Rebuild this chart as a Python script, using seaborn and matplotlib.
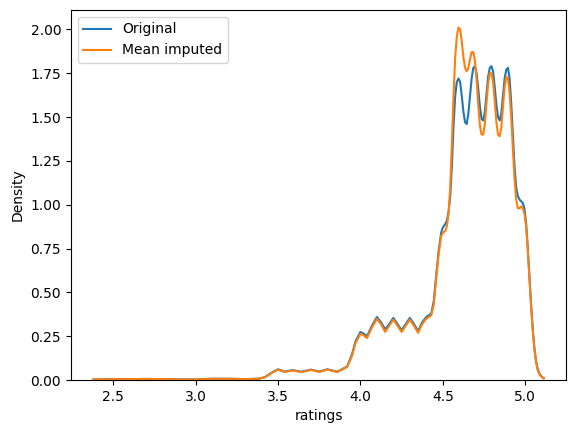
import matplotlib
matplotlib.use("Agg")
import matplotlib.pyplot as plt
import seaborn as sns

# density curves (x = rating, y = density)
ratings = [
    2.38, 2.50, 2.60, 2.70, 2.80, 2.90, 3.00, 3.10, 3.20, 3.30, 3.38,
    3.42, 3.46, 3.50, 3.54, 3.59, 3.64, 3.70, 3.75, 3.80, 3.86, 3.92,
    3.95, 3.97, 4.00, 4.02, 4.04, 4.07, 4.10, 4.125, 4.15, 4.175, 4.20,
    4.225, 4.25, 4.275, 4.30, 4.325, 4.35, 4.375, 4.40, 4.43, 4.445,
    4.46, 4.475, 4.49, 4.50, 4.515, 4.525, 4.535, 4.545,
    4.555, 4.565, 4.575, 4.585, 4.595, 4.605, 4.615, 4.625, 4.635, 4.645,
    4.655, 4.665, 4.675, 4.685, 4.695, 4.705, 4.715, 4.725, 4.735, 4.745,
    4.755, 4.765, 4.775, 4.785, 4.795, 4.805, 4.815, 4.825, 4.835, 4.845,
    4.855, 4.865, 4.875, 4.885, 4.895, 4.905, 4.915, 4.925, 4.935, 4.945,
    4.955, 4.965, 4.975, 4.985, 4.995, 5.005, 5.015, 5.025, 5.035, 5.045,
    5.055, 5.065, 5.075, 5.085, 5.095, 5.105, 5.112,
]

original = [
    0.004, 0.005, 0.006, 0.007, 0.006, 0.004, 0.004, 0.008, 0.008, 0.006, 0.008,
    0.017, 0.042, 0.062, 0.049, 0.057, 0.048, 0.060, 0.049, 0.062, 0.048, 0.078,
    0.15, 0.22, 0.275, 0.265, 0.25, 0.31, 0.36, 0.33, 0.29, 0.32, 0.355,
    0.32, 0.285, 0.32, 0.355, 0.32, 0.28, 0.33, 0.36, 0.38, 0.45,
    0.60, 0.74, 0.84, 0.87, 0.89, 0.91, 0.96, 1.05,
    1.22, 1.45, 1.62, 1.70, 1.72, 1.70, 1.62, 1.53, 1.47, 1.46,
    1.52, 1.62, 1.72, 1.78, 1.79, 1.75, 1.66, 1.56, 1.49, 1.48,
    1.53, 1.63, 1.73, 1.78, 1.79, 1.76, 1.67, 1.57, 1.50, 1.48,
    1.52, 1.62, 1.72, 1.77, 1.78, 1.72, 1.58, 1.40, 1.22, 1.10,
    1.05, 1.03, 1.02, 1.01, 0.98, 0.90, 0.76, 0.60, 0.44, 0.30,
    0.19, 0.11, 0.065, 0.04, 0.025, 0.016, 0.012,
]

mean_imputed = [
    0.004, 0.005, 0.006, 0.007, 0.006, 0.004, 0.004, 0.008, 0.008, 0.006, 0.008,
    0.016, 0.040, 0.060, 0.047, 0.055, 0.046, 0.058, 0.047, 0.060, 0.046, 0.076,
    0.14, 0.21, 0.265, 0.255, 0.24, 0.30, 0.35, 0.32, 0.275, 0.31, 0.345,
    0.31, 0.275, 0.31, 0.345, 0.31, 0.27, 0.32, 0.35, 0.37, 0.43,
    0.58, 0.72, 0.82, 0.84, 0.85, 0.88, 0.95, 1.10,
    1.35, 1.62, 1.84, 1.96, 2.01, 2.00, 1.93, 1.84, 1.78, 1.76,
    1.78, 1.83, 1.87, 1.87, 1.82, 1.71, 1.57, 1.45, 1.40, 1.40,
    1.46, 1.58, 1.69, 1.75, 1.75, 1.70, 1.59, 1.47, 1.40, 1.39,
    1.44, 1.56, 1.67, 1.73, 1.72, 1.64, 1.50, 1.32, 1.15, 1.03,
    0.98, 0.98, 0.99, 0.98, 0.95, 0.88, 0.75, 0.59, 0.43, 0.29,
    0.18, 0.11, 0.06, 0.035, 0.022, 0.015, 0.011,
]

fig, ax = plt.subplots(figsize=(5.76, 4.32), dpi=100)
fig.subplots_adjust(left=0.123, right=0.983, top=0.977, bottom=0.120)
sns.lineplot(x=ratings, y=original, label="Original", color="#1f77b4", ax=ax)
sns.lineplot(x=ratings, y=mean_imputed, label="Mean imputed", color="#ff7f0e", ax=ax)
ax.set_ylim(bottom=0)
ax.set_xlabel("ratings")
ax.set_ylabel("Density")
ax.legend(loc="upper left")
fig.savefig("out.png", dpi=100)
